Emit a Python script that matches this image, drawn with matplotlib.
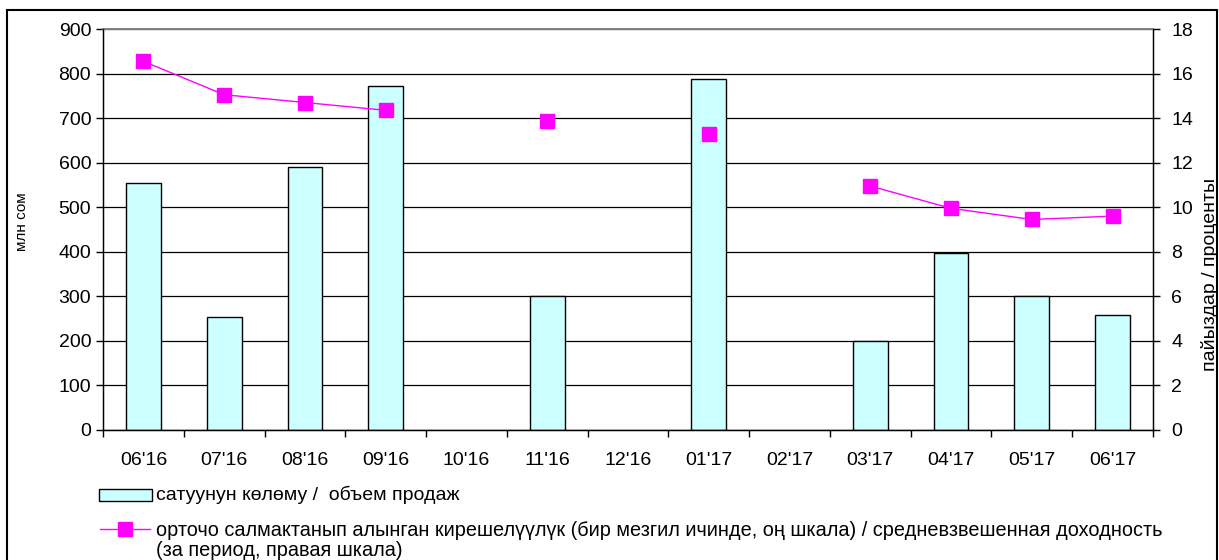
import matplotlib
matplotlib.use("Agg")
import matplotlib.pyplot as plt
import numpy as np
from matplotlib.patches import Rectangle
from matplotlib.lines import Line2D

plt.rcParams["font.family"] = ["Liberation Sans", "DejaVu Sans"]

months = ["06'16", "07'16", "08'16", "09'16", "10'16", "11'16", "12'16",
          "01'17", "02'17", "03'17", "04'17", "05'17", "06'17"]
volume = [555, 253, 590, 773, 0, 300, 0, 788, 0, 200, 398, 300, 258]
yield_pct = [16.55, 15.05, 14.7, 14.35, np.nan, 13.85, np.nan,
             13.3, np.nan, 10.95, 9.95, 9.45, 9.6]

label_bar = "сатуунун көлөму /  объем продаж"
label_line = ("орточо салмактанып алынган кирешелүүлүк (бир мезгил ичинде, оң шкала) / "
              "средневзвешенная доходность")
label_line2 = "(за период, правая шкала)"

W, H = 1219, 560
BAR_COLOR = "#CCFFFF"
LINE_COLOR = "#FF00FF"

fig = plt.figure(figsize=(W / 100, H / 100), dpi=100)
ax = fig.add_axes([103 / W, 1 - 430 / H, 1050 / W, 401 / H])

x = np.arange(len(months))
bars = ax.bar(x, volume, width=0.43, color=BAR_COLOR, edgecolor="black",
              lw=1.0, zorder=2)
# empty months: no bar drawn
for b, v in zip(bars, volume):
    if v == 0:
        b.set_visible(False)

ax.set_ylim(0, 900)
ax.set_yticks(range(0, 901, 100))
ax.set_xlim(-0.5, len(months) - 0.5)
ax.set_xticks(x)
ax.set_xticklabels(months, fontsize=14)
ax.set_xticks(np.arange(-0.5, len(months), 1), minor=True)
ax.tick_params(axis="x", which="major", length=0, pad=16)
ax.tick_params(axis="x", which="minor", length=5, width=1, direction="out")
ax.tick_params(axis="y", length=5, width=1, direction="out", labelsize=14)
ax.yaxis.grid(True, color="black", lw=0.9, zorder=0)
ax.set_axisbelow(True)
ax.spines["top"].set_color("#808080")
ax.spines["top"].set_linewidth(1.4)
for s in ["left", "bottom", "right"]:
    ax.spines[s].set_linewidth(1.0)

ax2 = ax.twinx()
ax2.plot(x, yield_pct, color=LINE_COLOR, lw=1, marker="s",
         markersize=9.5, zorder=3)
ax2.set_ylim(0, 18)
ax2.set_yticks(range(0, 19, 2))
ax2.tick_params(axis="y", length=5, width=1, direction="out", labelsize=14, pad=8)
ax2.spines["top"].set_visible(False)

# axis titles (placed in pixels like the source)
fig.text(22 / W, 1 - 222 / H, "млн сом", rotation=90, ha="center", va="center",
         fontsize=11)
fig.text(1210 / W, 1 - 274 / H, "пайыздар / проценты", rotation=90,
         ha="center", va="center", fontsize=14)

# legend below the plot
fig.add_artist(Rectangle((99 / W, 1 - 501 / H), 53 / W, 12 / H,
                         transform=fig.transFigure, facecolor=BAR_COLOR,
                         edgecolor="black", lw=1.0))
fig.text(156 / W, 1 - 495 / H, label_bar, ha="left", va="center", fontsize=14)
fig.add_artist(Line2D([100 / W, 150 / W], [1 - 529 / H, 1 - 529 / H],
                      transform=fig.transFigure, color=LINE_COLOR, lw=1))
fig.add_artist(Line2D([125 / W], [1 - 529 / H], transform=fig.transFigure,
                      color=LINE_COLOR, marker="s", markersize=9.5, lw=0))
fig.text(156 / W, 1 - 530 / H, label_line, ha="left", va="center", fontsize=14.3)
fig.text(156 / W, 1 - 551 / H, label_line2, ha="left", va="center", fontsize=14.3)

# outer frame like the source
fig.add_artist(Rectangle((7 / W, -0.05), 1210 / W, 1.05 - 10 / H,
                         transform=fig.transFigure, fill=False,
                         edgecolor="black", lw=1.5))

fig.savefig("out.png", dpi=100)
